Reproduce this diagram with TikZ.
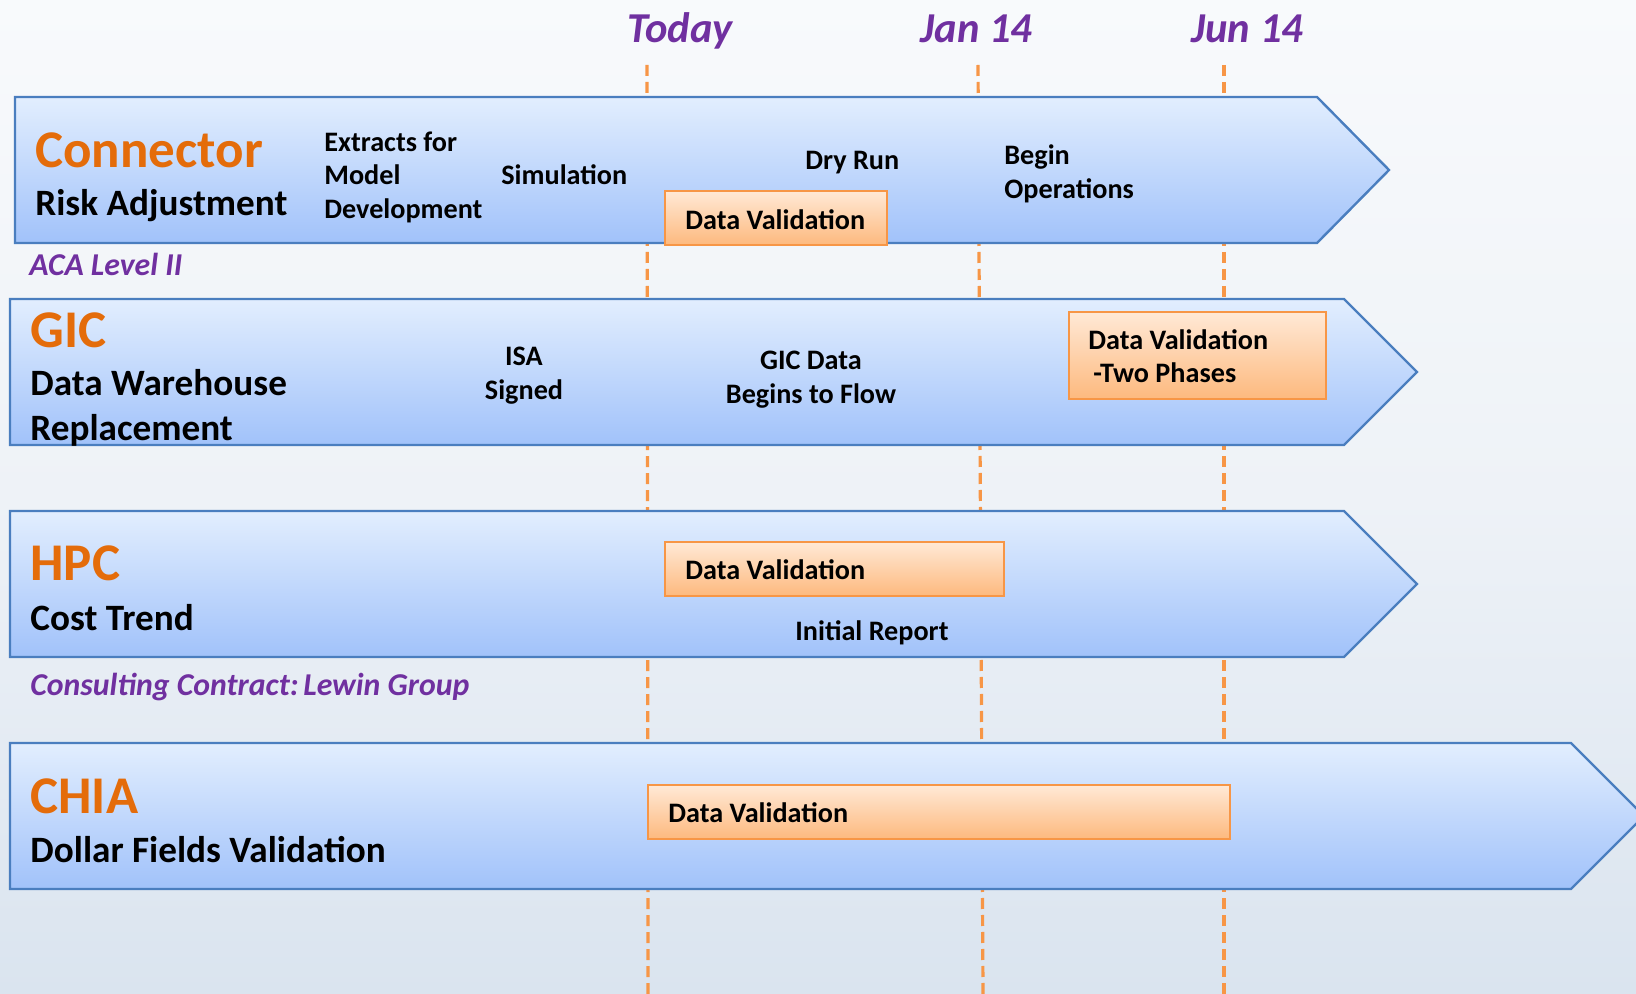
\documentclass[tikz,border=0pt]{standalone}
\usepackage{fontspec}
\setmainfont{Carlito}
\definecolor{bgtop}{HTML}{F8FAFC}
\definecolor{bgmid}{HTML}{EEF2F7}
\definecolor{bgbot}{HTML}{DAE4EF}
\definecolor{lanetop}{HTML}{E2EEFE}
\definecolor{lanebot}{HTML}{A1C2FA}
\definecolor{laneborder}{HTML}{4A7EBF}
\definecolor{boxtop}{HTML}{FFE9D6}
\definecolor{boxbot}{HTML}{FDB97E}
\definecolor{boxborder}{HTML}{F79646}
\definecolor{dashorange}{HTML}{F79646}
\definecolor{titleorange}{HTML}{E46C0A}
\definecolor{notepurple}{HTML}{7030A0}
\begin{document}
\begin{tikzpicture}[x=0.5pt,y=-0.5pt,
  lane/.style={draw=laneborder, line width=1.2pt, top color=lanetop, bottom color=lanebot, line join=miter},
  vbox/.style={draw=boxborder, line width=1.3pt, top color=boxtop, bottom color=boxbot, inner sep=0, outer sep=0, anchor=north west},
  dateline/.style={draw=dashorange, line width=1.6pt, dash pattern=on 5.5pt off 3pt},
  txt/.style={inner sep=0, anchor=base west, yshift=-1.3pt},
  ttl/.style={txt, font=\fontsize{26.5}{30}\selectfont\bfseries, text=titleorange},
  sub/.style={txt, font=\fontsize{18.6}{22}\selectfont\bfseries},
  ms/.style={txt, font=\fontsize{14.1}{17}\selectfont\bfseries},
  msc/.style={ms, anchor=base},
  note/.style={txt, font=\fontsize{15.9}{19}\selectfont\bfseries\itshape, text=notepurple},
  datelbl/.style={txt, font=\fontsize{21.3}{25}\selectfont\bfseries\itshape, text=notepurple}
]
\useasboundingbox (0,0) rectangle (1636,994);
\shade[top color=bgtop, bottom color=bgbot, middle color=bgmid] (0,0) rectangle (1636,994);

% date labels
\node[datelbl] (today) at (627,40) {Today};
\node[datelbl] (jan) at (920,40) {Jan 14};
\node[datelbl] (jun) at (1191,40) {Jun 14};

% dashed date lines
\coordinate (t1) at (647,65); \coordinate (t2) at (648,994);
\coordinate (j1) at (978,65); \coordinate (j2) at (983,994);
\coordinate (u1) at (1224,65); \coordinate (u2) at (1224,994);
\draw[dateline] (t1) -- (t2);
\draw[dateline] (j1) -- (j2);
\draw[dateline] (u1) -- (u2);

% lanes
\path[lane] (15,97) -- (1317,97) -- (1389,170) -- (1317,243) -- (15,243) -- cycle;
\path[lane] (10,299) -- (1344,299) -- (1417,372) -- (1344,445) -- (10,445) -- cycle;
\path[lane] (10,511) -- (1344,511) -- (1417,584) -- (1344,657) -- (10,657) -- cycle;
\path[lane] (10,743) -- (1571,743) -- (1644,816) -- (1571,889) -- (10,889) -- cycle;

% Connector lane
\node[ttl] (conn) at (35,165) {Connector};
\node[sub] (risk) at (35,213) {Risk Adjustment};
\node[ms] (ext1) at (324,149) {Extracts for};
\node[ms] (ext2) at (324,182) {Model};
\node[ms] (ext3) at (324,216) {Development};
\node[ms] (sim) at (501,182) {Simulation};
\node[ms] (dry) at (805,167) {Dry Run};
\node[ms] (beg1) at (1004,162) {Begin};
\node[ms] (beg2) at (1004,196) {Operations};
\node[vbox, minimum width=111pt, minimum height=27pt] (dv1) at (665,191) {};
\node[ms] (dv1t) at (685,227) {Data Validation};
\node[note] (aca) at (29,273) {ACA Level II};

% GIC lane
\node[ttl] (gic) at (30,345) {GIC};
\node[sub] (dw) at (30,393) {Data Warehouse};
\node[sub] (repl) at (30,438) {Replacement};
\node[msc] (isa1) at (524,363) {ISA};
\node[msc] (isa2) at (524,397) {Signed};
\node[msc] (gd1) at (811,367) {GIC Data};
\node[msc] (gd2) at (811,401) {Begins to Flow};
\node[vbox, minimum width=128.5pt, minimum height=43.5pt] (dv2) at (1069,312) {};
\node[ms] (dv2t) at (1088,347) {Data Validation};
\node[ms] (dv2u) at (1093,380) {-Two Phases};

% HPC lane
\node[ttl] (hpc) at (30,578) {HPC};
\node[sub] (cost) at (30,628) {Cost Trend};
\node[vbox, minimum width=169.5pt, minimum height=27pt] (dv3) at (665,542) {};
\node[ms] (dv3t) at (685,577) {Data Validation};
\node[ms] (init) at (795,638) {Initial Report};
\node[note] (lewin) at (30,693) {Consulting Contract:\hspace{-0.15em} Lewin Group};

% CHIA lane
\node[ttl] (chia) at (30,811) {CHIA};
\node[sub] (dollar) at (30,860) {Dollar Fields Validation};
\node[vbox, minimum width=291pt, minimum height=27pt] (dv4) at (648,785) {};
\node[ms] (dv4t) at (668,820) {Data Validation};
\end{tikzpicture}
\end{document}
